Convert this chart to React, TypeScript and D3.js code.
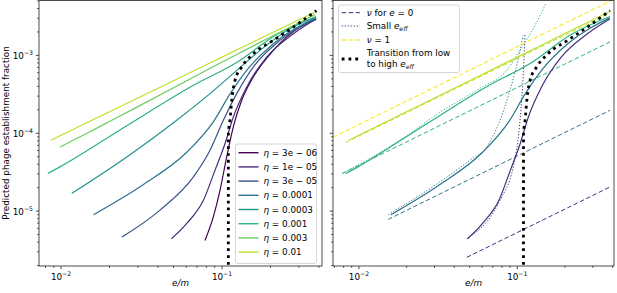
import React from "react";
import * as d3 from "d3";

// ---------- data ----------
const etaLabels = ["3e − 06", "1e − 05", "3e − 05", "0.0001", "0.0003", "0.001", "0.003", "0.01"];

const s3e6x = [0.0783, 0.0883, 0.0972, 0.1069, 0.1175, 0.1325, 0.1563, 0.2083, 0.305, 0.384];
const s3e6y = [4.19e-6, 8.45e-6, 1.86e-5, 4.97e-5, 1.21e-4, 2.65e-4, 5.27e-4, 1.16e-3, 2.31e-3, 2.9e-3];
const s1e5x = [0.0485, 0.0604, 0.0766, 0.0905, 0.1044, 0.1175, 0.1423, 0.1895, 0.2773, 0.384];
const s1e5y = [4.42e-6, 6.95e-6, 1.38e-5, 3.36e-5, 7.38e-5, 1.62e-4, 3.93e-4, 9.51e-4, 1.9e-3, 2.94e-3];
const s3e5x = [0.0239, 0.0412, 0.0664, 0.0842, 0.1019, 0.1234, 0.1563, 0.229, 0.384];
const s3e5y = [4.64e-6, 1.03e-5, 2.75e-5, 6.05e-5, 1.47e-4, 3.23e-4, 7.08e-4, 1.56e-3, 2.98e-3];
const s1e4x = [0.0159, 0.0325, 0.0604, 0.0883, 0.1122, 0.1423, 0.2083, 0.384];
const s1e4y = [9.0e-6, 2.2e-5, 5.7e-5, 1.4e-4, 3.2e-4, 6.42e-4, 1.41e-3, 3.03e-3];
const s3e4x = [0.01166, 0.0256, 0.0523, 0.0842, 0.1234, 0.1722, 0.276, 0.384];
const s3e4y = [1.69e-5, 4.97e-5, 1.47e-4, 3.23e-4, 6.42e-4, 1.16e-3, 2.31e-3, 3.07e-3];
const s1e3x = [0.00827, 0.00986, 0.0256, 0.0661, 0.1234, 0.2188, 0.384];
const s1e3y = [3.04e-5, 3.7e-5, 1.25e-4, 4.1e-4, 8.1e-4, 1.85e-3, 3.16e-3];
const s3e3x = [0.00986, 0.015, 0.02, 0.03, 0.05, 0.08, 0.12, 0.2, 0.3, 0.38];
const s3e3y = [6.67e-5, 1.038e-4, 1.416e-4, 2.198e-4, 3.84e-4, 6.43e-4, 9.98e-4, 1.722e-3, 2.625e-3, 3.355e-3];
const s1e2x = [0.00863, 0.02, 0.05, 0.1, 0.2, 0.384];
const s1e2y = [8.13e-5, 1.89e-4, 4.73e-4, 9.5e-4, 1.91e-3, 3.66e-3];

const transX = [0.1094, 0.1095, 0.1121, 0.1149, 0.1204, 0.1325, 0.1563, 0.2083, 0.2773, 0.385];
const transY = [1e-7, 1.0e-4, 1.47e-4, 2.65e-4, 4.77e-4, 7.08e-4, 1.05e-3, 1.56e-3, 2.31e-3, 3.75e-3];

// right panel: "nu for e=0" asymptotes (index into eta list)
const nu0Idx = [1, 3, 5, 7];
const nu0X0 = [0.048, 0.0153, 0.00784, 0.00824];
const nu0Y0 = [2.55e-6, 7.83e-6, 3.04e-5, 7.6e-5];
const nu0X1 = [0.385, 0.385, 0.385, 0.385];
const nu0Y1 = [2.04e-5, 1.97e-4, 1.49e-3, 3.5e-3];

const nu1X = [0.00686, 0.41];
const nu1Y = [8.89e-5, 5.3e-3];

// right panel: small e_eff approximations
const small1e5x = [0.048, 0.0778, 0.0943, 0.101, 0.1054, 0.1086, 0.1119];
const small1e5y = [4.42e-6, 1.38e-5, 3.7e-5, 8.13e-5, 1.97e-4, 4.77e-4, 1.9e-3];
const small1e4x = [0.0153, 0.0281, 0.0502, 0.0641, 0.0778, 0.0899, 0.101, 0.1087];
const small1e4y = [9e-6, 1.95e-5, 4.5e-5, 6.67e-5, 1.47e-4, 3.56e-4, 8.63e-4, 1.8e-3];
const small1e3x = [0.00784, 0.01815, 0.0325, 0.0581, 0.0857, 0.104, 0.1294, 0.1518];
const small1e3y = [3.04e-5, 8.13e-5, 1.86e-4, 3.78e-4, 6.42e-4, 1.16e-3, 2.43e-3, 4.64e-3];

const xTicks = [0.01, 0.1];
const yTicks = [1e-5, 1e-4, 1e-3];

// ---------- layout ----------
const seriesX = [s3e6x, s1e5x, s3e5x, s1e4x, s3e4x, s1e3x, s3e3x, s1e2x];
const seriesY = [s3e6y, s1e5y, s3e5y, s1e4y, s3e4y, s1e3y, s3e3y, s1e2y];
const colors = etaLabels.map((_, i) => d3.interpolateViridis((i / 7) * 0.9));
const rightSolid = [1, 3, 5, 7];
const smallIdx = [1, 3, 5];
const smallX = [small1e5x, small1e4x, small1e3x];
const smallY = [small1e5y, small1e4y, small1e3y];

const TOP = 0.5, BOT = 266;
const xL = d3.scaleLog().domain([10 ** -2.137, 10 ** -0.379]).range([39, 322]);
const xR = d3.scaleLog().domain([10 ** -2.164, 10 ** -0.389]).range([333, 614]);
const y = d3.scaleLog().domain([10 ** -5.705, 10 ** -2.295]).range([BOT, TOP]);

const FONT = "DejaVu Sans, sans-serif";
const FS = 8.8;

function zip(xs: number[], ys: number[]) {
  return xs.map((v, i) => [v, ys[i]] as [number, number]);
}

function pathFor(xs: any, xs2: number[], ys: number[], curve = d3.curveMonotoneX) {
  const g = d3.line<[number, number]>().x(d => xs(d[0])).y(d => y(d[1])).curve(curve);
  return g(zip(xs2, ys)) || "";
}

function minorTicks(lo: number, hi: number) {
  const out: number[] = [];
  for (let e = -7; e <= 1; e++) {
    for (let m = 1; m <= 9; m++) {
      const v = m * 10 ** e;
      if (v >= lo && v <= hi) out.push(v);
    }
  }
  return out;
}

function Pow({ x, yy, exp, anchor }: { x: number; yy: number; exp: string; anchor: string }) {
  return (
    <text x={x} y={yy} fontSize={FS} fontFamily={FONT} textAnchor={anchor} fill="#000">
      10<tspan fontSize={FS * 0.7} dy={-4}>{exp}</tspan>
    </text>
  );
}

function Axes({ xs, left }: { xs: any; left: boolean }) {
  const [x0, x1] = xs.range();
  const xd = xs.domain();
  const yd = y.domain();
  const xMinor = minorTicks(xd[0], xd[1]);
  const yMinor = minorTicks(yd[0], yd[1]);
  return (
    <g>
      {xMinor.map((v, i) => {
        const major = Math.abs(Math.log10(v) - Math.round(Math.log10(v))) < 1e-9;
        return <line key={"xm" + i} x1={xs(v)} x2={xs(v)} y1={BOT} y2={BOT + (major ? 3.2 : 1.8)} stroke="#000" strokeWidth={0.7} />;
      })}
      {yMinor.map((v, i) => {
        const major = Math.abs(Math.log10(v) - Math.round(Math.log10(v))) < 1e-9;
        return <line key={"ym" + i} x1={x0} x2={x0 - (major ? 3.2 : 1.8)} y1={y(v)} y2={y(v)} stroke="#000" strokeWidth={0.7} />;
      })}
      {xTicks.map((v, i) => (
        <Pow key={"xt" + i} x={xs(v)} yy={BOT + 14} exp={"−" + Math.round(-Math.log10(v))} anchor="middle" />
      ))}
      {left && yTicks.map((v, i) => (
        <Pow key={"yt" + i} x={33} yy={y(v) + 3.5} exp={"−" + Math.round(-Math.log10(v))} anchor="end" />
      ))}
      <rect x={x0} y={TOP} width={x1 - x0} height={BOT - TOP} fill="none" stroke="#222" strokeWidth={0.8} />
      <text x={(x0 + x1) / 2} y={286} fontSize={FS} fontFamily={FONT} textAnchor="middle" fontStyle="italic">e/m</text>
    </g>
  );
}

const Eff = () => (
  <>
    <tspan fontStyle="italic">e</tspan>
    <tspan fontStyle="italic" fontSize={FS * 0.7} dy={2}>eff</tspan>
  </>
);

export default function App() {
  return (
    <svg width={617} height={293} style={{ display: "block", position: "absolute", left: 0, top: 0 }}>
      <defs>
        <clipPath id="cl"><rect x={39} y={TOP} width={283} height={BOT - TOP} /></clipPath>
        <clipPath id="cr"><rect x={333} y={TOP} width={281} height={BOT - TOP} /></clipPath>
      </defs>
      <rect x={0} y={0} width={617} height={293} fill="#fff" />

      {/* left panel */}
      <g clipPath="url(#cl)">
        {seriesX.map((xs, i) => (
          <path key={i} d={pathFor(xL, xs, seriesY[i])} fill="none" stroke={colors[i]} strokeWidth={1.2} />
        ))}
        <path d={pathFor(xL, transX, transY)} fill="none" stroke="#000" strokeWidth={2.8} strokeDasharray="2.8 4" />
      </g>
      <Axes xs={xL} left={true} />
      <text transform="translate(9,133) rotate(-90)" fontSize={FS} fontFamily={FONT} textAnchor="middle">Predicted phage establishment fraction</text>

      {/* left legend */}
      <rect x={235.5} y={144} width={81} height={119.5} rx={2.5} fill="#fff" fillOpacity={0.8} stroke="#ccc" strokeWidth={0.8} />
      {etaLabels.map((lab, i) => (
        <g key={i}>
          <line x1={238.5} x2={258.5} y1={152.7 + i * 14.2} y2={152.7 + i * 14.2} stroke={colors[i]} strokeWidth={1.4} />
          <text x={263.5} y={155.8 + i * 14.2} fontSize={FS} fontFamily={FONT}>
            <tspan fontStyle="italic">η</tspan>{" = " }{lab}
          </text>
        </g>
      ))}

      {/* right panel */}
      <g clipPath="url(#cr)">
        {nu0Idx.map((ci, k) => (
          <path key={"n0" + k} d={pathFor(xR, [nu0X0[k], nu0X1[k]], [nu0Y0[k], nu0Y1[k]], d3.curveLinear)} fill="none" stroke={colors[ci]} strokeWidth={1} strokeDasharray="4.5 2.5" />
        ))}
        {smallIdx.map((ci, k) => (
          <path key={"sm" + k} d={pathFor(xR, smallX[k], smallY[k])} fill="none" stroke={colors[ci]} strokeWidth={1} strokeDasharray="1.2 1.8" />
        ))}
        <path d={pathFor(xR, nu1X, nu1Y, d3.curveLinear)} fill="none" stroke="#fde725" strokeOpacity={0.85} strokeWidth={1.3} strokeDasharray="4.5 2.5" />
        {rightSolid.map(i => (
          <path key={"rs" + i} d={pathFor(xR, seriesX[i], seriesY[i])} fill="none" stroke={colors[i]} strokeWidth={1.2} />
        ))}
        <path d={pathFor(xR, transX, transY)} fill="none" stroke="#000" strokeWidth={2.8} strokeDasharray="2.8 4" />
      </g>
      <Axes xs={xR} left={false} />

      {/* right legend */}
      <rect x={338.5} y={5} width={121} height={67.5} rx={2.5} fill="#fff" fillOpacity={0.8} stroke="#ccc" strokeWidth={0.8} />
      <line x1={341.7} x2={360} y1={12.7} y2={12.7} stroke={colors[1]} strokeWidth={1} strokeDasharray="4.5 2.5" />
      <text x={366.7} y={15.8} fontSize={FS} fontFamily={FONT}>
        <tspan fontStyle="italic">ν</tspan> for <tspan fontStyle="italic">e</tspan> = 0
      </text>
      <line x1={341.7} x2={360} y1={26} y2={26} stroke={colors[1]} strokeWidth={1} strokeDasharray="1.2 1.8" />
      <text x={366.7} y={29.1} fontSize={FS} fontFamily={FONT}>Small <Eff /></text>
      <line x1={341.7} x2={360} y1={40} y2={40} stroke="#fde725" strokeOpacity={0.85} strokeWidth={1.3} strokeDasharray="4.5 2.5" />
      <text x={366.7} y={43.1} fontSize={FS} fontFamily={FONT}>
        <tspan fontStyle="italic">ν</tspan> = 1
      </text>
      <line x1={341.7} x2={360} y1={59} y2={59} stroke="#000" strokeWidth={2.8} strokeDasharray="2.8 4" />
      <text x={366.7} y={56.4} fontSize={FS} fontFamily={FONT}>Transition from low</text>
      <text x={366.7} y={66.6} fontSize={FS} fontFamily={FONT}>to high <Eff /></text>
    </svg>
  );
}
